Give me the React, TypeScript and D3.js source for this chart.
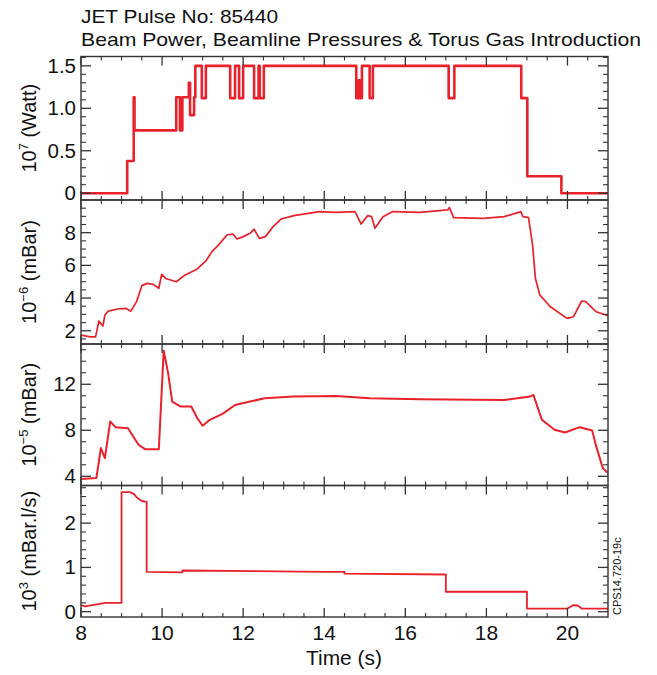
import { useMemo } from 'react'
import * as d3 from 'd3'

// ---- data ----
// beam power, 10^7 W (step-after)
const powerTime = [8, 9.14, 9.3, 9.32, 10.35, 10.44, 10.5, 10.66, 10.69, 10.79, 10.82, 10.98, 11.08, 11.68, 11.8, 11.9, 12.0, 12.27, 12.38, 12.41, 12.51, 14.79, 14.85, 14.87, 14.93, 15.12, 15.2, 17.07, 17.21, 18.86, 19.01, 19.85, 21]
const powerValue = [0, 0.38, 1.13, 0.74, 1.13, 0.74, 1.13, 1.3, 0.92, 1.13, 1.5, 1.12, 1.5, 1.12, 1.5, 1.12, 1.5, 1.12, 1.5, 1.12, 1.5, 1.12, 1.33, 1.12, 1.5, 1.12, 1.5, 1.12, 1.5, 1.12, 0.2, 0, 0]

// beamline pressure, 10^-6 mBar
const p6Time = [8.0, 8.23, 8.36, 8.44, 8.54, 8.59, 8.67, 8.9, 9.11, 9.23, 9.37, 9.5, 9.63, 9.78, 9.92, 9.99, 10.09, 10.35, 10.56, 10.87, 11.08, 11.23, 11.39, 11.6, 11.75, 11.85, 12.0, 12.17, 12.27, 12.4, 12.55, 12.74, 12.94, 13.25, 13.88, 14.29, 14.76, 14.91, 15.07, 15.17, 15.25, 15.45, 15.69, 16.36, 17.04, 17.09, 17.19, 17.92, 18.44, 18.85, 18.9, 19.04, 19.14, 19.21, 19.32, 19.58, 19.99, 20.15, 20.35, 20.45, 20.71, 21.0]
const p6Value = [1.73, 1.63, 1.63, 2.59, 2.29, 2.96, 3.2, 3.33, 3.37, 3.2, 3.78, 4.76, 4.9, 4.84, 4.6, 5.45, 5.2, 5.0, 5.4, 5.78, 6.27, 6.84, 7.24, 7.86, 7.92, 7.61, 7.76, 7.96, 8.22, 7.65, 7.76, 8.37, 8.84, 9.04, 9.29, 9.24, 9.29, 8.53, 9.04, 8.98, 8.27, 8.98, 9.29, 9.24, 9.39, 9.53, 8.92, 8.88, 8.98, 9.29, 8.98, 8.92, 7.24, 5.2, 4.18, 3.47, 2.76, 2.86, 3.82, 3.78, 3.16, 2.92]

// beamline pressure, 10^-5 mBar
const p5Time = [8.0, 8.38, 8.49, 8.59, 8.72, 8.85, 9.16, 9.42, 9.58, 9.92, 10.04, 10.15, 10.25, 10.46, 10.72, 10.87, 11.0, 11.18, 11.49, 11.8, 12.17, 12.53, 13.25, 14.29, 15.12, 16.36, 18.44, 19.08, 19.16, 19.37, 19.68, 19.94, 20.3, 20.61, 20.71, 20.87, 21.0]
const p5Value = [3.76, 3.85, 6.45, 5.58, 8.76, 8.27, 8.18, 6.74, 6.36, 6.36, 14.92, 12.95, 10.5, 10.06, 10.06, 9.05, 8.39, 8.91, 9.43, 10.2, 10.5, 10.79, 10.93, 10.99, 10.79, 10.7, 10.64, 10.93, 11.08, 8.91, 8.04, 7.81, 8.27, 7.98, 6.6, 4.72, 4.28]

// torus gas introduction, 10^3 mBar.l/s
const gasTime = [8.0, 8.1, 8.6, 9.0, 9.0, 9.2, 9.3, 9.4, 9.5, 9.62, 9.62, 10.5, 10.5, 14.0, 14.5, 14.5, 17.0, 17.0, 19.0, 19.0, 20.0, 20.15, 20.25, 20.35, 21.0]
const gasValue = [0.15, 0.12, 0.2, 0.2, 2.7, 2.7, 2.66, 2.56, 2.5, 2.48, 0.9, 0.89, 0.93, 0.9, 0.9, 0.86, 0.84, 0.45, 0.45, 0.07, 0.07, 0.15, 0.14, 0.07, 0.07]

const xTicks = [8, 10, 12, 14, 16, 18, 20]

const RED = '#e8212b'
const AXIS = '#333'
const FONT = 'Liberation Sans, Arial, Helvetica, sans-serif'

const left = 81
const right = 608

type Panel = {
  top: number
  bottom: number
  domain: [number, number]
  major: number[]
  minorStep: number
  fmt: (v: number) => string
  label: [string, string, string]
  time: number[]
  value: number[]
  step: boolean
  width: number
}

const panels: Panel[] = [
  {
    top: 56.5, bottom: 200, domain: [-0.08, 1.61], major: [0, 0.5, 1, 1.5], minorStep: 0.1,
    fmt: (v) => (v === 0 ? '0' : v.toFixed(1)), label: ['10', '7', ' (Watt)'],
    time: powerTime, value: powerValue, step: true, width: 2.6,
  },
  {
    top: 200, bottom: 344, domain: [1.19, 10.0], major: [2, 4, 6, 8], minorStep: 0.5,
    fmt: (v) => `${v}`, label: ['10', '\u22126', ' (mBar)'],
    time: p6Time, value: p6Value, step: false, width: 1.7,
  },
  {
    top: 344, bottom: 485.5, domain: [3.2, 15.5], major: [4, 8, 12], minorStep: 1,
    fmt: (v) => `${v}`, label: ['10', '\u22125', ' (mBar)'],
    time: p5Time, value: p5Value, step: false, width: 2,
  },
  {
    top: 485.5, bottom: 617, domain: [-0.12, 2.85], major: [0, 1, 2], minorStep: 0.2,
    fmt: (v) => `${v}`, label: ['10', '3', ' (mBar.l/s)'],
    time: gasTime, value: gasValue, step: false, width: 1.8,
  },
]

const x = d3.scaleLinear().domain([8, 21]).range([left, right])

const PanelView = ({ p }: { p: Panel }) => {
  const y = d3.scaleLinear().domain(p.domain).range([p.bottom, p.top])
  const pts = p.time.map((t, i) => [t, p.value[i]] as [number, number])
  const line = d3
    .line<[number, number]>()
    .x((d) => x(d[0]))
    .y((d) => y(d[1]))
    .curve(p.step ? d3.curveStepAfter : d3.curveLinear)

  const minors = d3.range(Math.ceil(p.domain[0] / p.minorStep) * p.minorStep, p.domain[1], p.minorStep)
    .filter((v) => !p.major.some((m) => Math.abs(m - v) < 1e-6))
  const xMinor = d3.range(8.5, 21, 0.5).filter((v) => v % 2 !== 0)
  const cy = (p.top + p.bottom) / 2

  return (
    <g>
      <clipPath id={`clip${p.top}`}>
        <rect x={left} y={p.top} width={right - left} height={p.bottom - p.top} />
      </clipPath>
      <path
        d={line(pts) ?? ''}
        fill="none"
        stroke={RED}
        strokeWidth={p.width}
        strokeLinejoin="round"
        clipPath={`url(#clip${p.top})`}
      />
      <rect x={left} y={p.top} width={right - left} height={p.bottom - p.top} fill="none" stroke={AXIS} strokeWidth={1.4} />
      {/* y ticks */}
      {p.major.map((v) => (
        <g key={`M${v}`}>
          <line x1={left} x2={left + 10} y1={y(v)} y2={y(v)} stroke={AXIS} strokeWidth={1.3} />
          <line x1={right} x2={right - 10} y1={y(v)} y2={y(v)} stroke={AXIS} strokeWidth={1.3} />
          <text x={left - 5} y={y(v) + 7} textAnchor="end" fontSize={20.5} fontFamily={FONT} fill="#111">
            {p.fmt(v)}
          </text>
        </g>
      ))}
      {minors.map((v) => (
        <g key={`m${v}`}>
          <line x1={left} x2={left + 5} y1={y(v)} y2={y(v)} stroke={AXIS} strokeWidth={1.1} />
          <line x1={right} x2={right - 5} y1={y(v)} y2={y(v)} stroke={AXIS} strokeWidth={1.1} />
        </g>
      ))}
      {/* x ticks */}
      {xTicks.map((t) => (
        <g key={`X${t}`}>
          <line x1={x(t)} x2={x(t)} y1={p.bottom} y2={p.bottom - 9} stroke={AXIS} strokeWidth={1.3} />
          <line x1={x(t)} x2={x(t)} y1={p.top} y2={p.top + 9} stroke={AXIS} strokeWidth={1.3} />
        </g>
      ))}
      {xMinor.map((t) => (
        <g key={`x${t}`}>
          <line x1={x(t)} x2={x(t)} y1={p.bottom} y2={p.bottom - 4} stroke={AXIS} strokeWidth={1.1} />
          <line x1={x(t)} x2={x(t)} y1={p.top} y2={p.top + 4} stroke={AXIS} strokeWidth={1.1} />
        </g>
      ))}
      <text
        transform={`translate(36,${cy}) rotate(-90)`}
        textAnchor="middle"
        fontSize={20}
        fontFamily={FONT}
        fill="#111"
      >
        {p.label[0]}
        <tspan dy={-8} fontSize={13}>{p.label[1]}</tspan>
        <tspan dy={8}>{p.label[2]}</tspan>
      </text>
    </g>
  )
}

export default function App() {
  const bottom = panels[panels.length - 1].bottom
  const xLabels = useMemo(() => xTicks, [])
  return (
    <div style={{ position: 'fixed', left: 0, top: 0 }}>
      <svg width={657} height={675} viewBox="0 0 657 675" style={{ display: 'block', background: '#fff' }}>
        <text x={81} y={23} fontSize={19} fontFamily={FONT} fill="#111" textLength={197} lengthAdjust="spacingAndGlyphs">
          JET Pulse No: 85440
        </text>
        <text x={81} y={46} fontSize={19} fontFamily={FONT} fill="#111" textLength={560} lengthAdjust="spacingAndGlyphs">
          Beam Power, Beamline Pressures &amp; Torus Gas Introduction
        </text>
        {panels.map((p) => (
          <PanelView key={p.top} p={p} />
        ))}
        {xLabels.map((t) => (
          <text key={t} x={x(t)} y={bottom + 23} textAnchor="middle" fontSize={21} fontFamily={FONT} fill="#111">
            {t}
          </text>
        ))}
        <text x={344} y={665} textAnchor="middle" fontSize={20} fontFamily={FONT} fill="#111" textLength={76} lengthAdjust="spacingAndGlyphs">
          Time (s)
        </text>
        <text
          transform={`translate(621,615) rotate(-90)`}
          fontSize={11}
          fontFamily={FONT}
          fill="#111"
        >
          CPS14.720-19c
        </text>
      </svg>
    </div>
  )
}
